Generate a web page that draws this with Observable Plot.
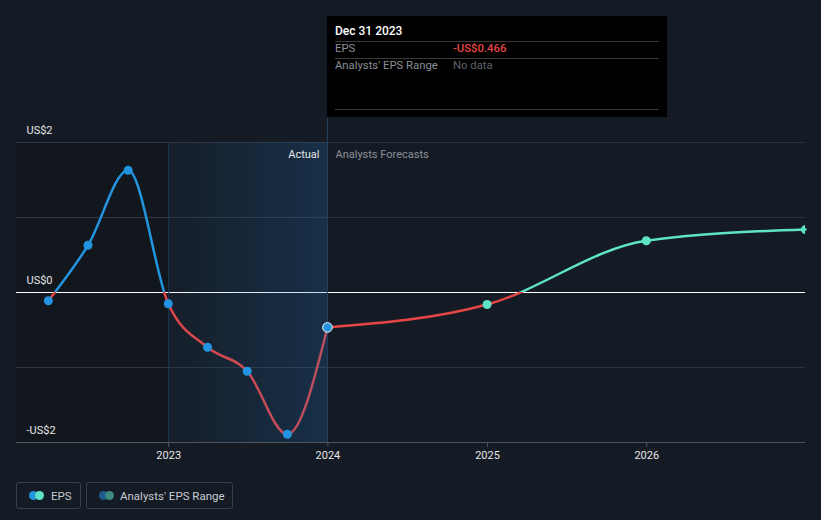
<!DOCTYPE html>
<html>
<head>
<meta charset="utf-8">
<script src="https://cdn.jsdelivr.net/npm/d3@7"></script>
<script src="https://cdn.jsdelivr.net/npm/@observablehq/plot@0.6"></script>
<style>
  html, body { margin: 0; padding: 0; background: #151b24; font-family: Roboto, "Noto Sans", sans-serif; }
  #wrap { position: relative; width: 821px; height: 520px; overflow: hidden; }
  #chart { position: absolute; left: 0; top: 0; }
  #tip { position: absolute; left: 327px; top: 16px; width: 340px; height: 101px; background: #000; }
  #tip .t { position: absolute; left: 8px; top: 8px; color: #fff; font-size: 12px; font-weight: 500; }
  #tip .hr { position: absolute; left: 8px; width: 324px; height: 1px; background: #3a3a3a; }
  #tip .l { position: absolute; left: 8px; color: #8a8f96; font-size: 11.3px; }
  #tip .v { position: absolute; left: 126px; font-size: 11.3px; }
  .leg { position: absolute; top: 482px; height: 27px; border: 1px solid #3a3f48; border-radius: 3px; box-sizing: border-box; }
  .leg .d { position: absolute; top: 8px; width: 9px; height: 9px; border-radius: 50%; }
  .leg .txt { position: absolute; top: 6px; font-size: 11.5px; color: #c6cad0; }
</style>
</head>
<body>
<div id="wrap">
  <div id="chart"></div>
  <div id="tip">
    <div class="t">Dec 31 2023</div>
    <div class="hr" style="top:25px"></div>
    <div class="l" style="top:26px">EPS</div>
    <div class="v" style="top:26px;color:#e64545;font-weight:500">-US$0.466</div>
    <div class="hr" style="top:42px"></div>
    <div class="l" style="top:43px">Analysts' EPS Range</div>
    <div class="v" style="top:43px;color:#5d6168">No data</div>
    <div class="hr" style="top:93px"></div>
  </div>
  <div class="leg" style="left:16px;width:65px">
    <div class="d" style="left:12px;background:#2394df"></div>
    <div class="d" style="left:18px;background:#5ee3c7"></div>
    <div class="txt" style="left:34px">EPS</div>
  </div>
  <div class="leg" style="left:86px;width:147px">
    <div class="d" style="left:12px;background:#1d5b8c"></div>
    <div class="d" style="left:18px;background:#3d8a80"></div>
    <div class="txt" style="left:33px">Analysts' EPS Range</div>
  </div>
</div>
<script>
// ---- data ----
const actualDates = ["2022-03-31","2022-06-30","2022-09-30","2022-12-31","2023-03-31","2023-06-30","2023-09-30","2023-12-31"];
const actualEPS   = [-0.11, 0.63, 1.63, -0.15, -0.73, -1.05, -1.89, -0.466];
const forecastDates = ["2023-12-31","2024-12-31","2025-12-31","2026-12-31"];
const forecastEPS   = [-0.466, -0.16, 0.69, 0.84];
const yTickValues = [2, 0, -2];
const yTickLabels = ["US$2", "US$0", "-US$2"];
const xTickYears = [2023, 2024, 2025, 2026];
const gridValues = [2, 1, -1];
const domainStart = "2022-01-17";
const domainEnd = "2026-12-31";
const actualStart = "2023-01-01";
const lastActual = "2023-12-31";
const tipBottom = 2.33;

const D = s => new Date(s + "T00:00:00Z");
const actual = actualDates.map((d, i) => ({date: D(d), eps: actualEPS[i]}));
const forecast = forecastDates.map((d, i) => ({date: D(d), eps: forecastEPS[i]}));
const xTicks = xTickYears.map(y => new Date(Date.UTC(y, 0, 1)));
const yTicks = yTickValues.map((v, i) => ({v, label: yTickLabels[i]}));

const BLUE = "#2394df", RED = "#e64545", TEAL = "#5ee3c7";

function defs(index, scales, values, dims) {
  const y0 = scales.y(0);
  const ns = "http://www.w3.org/2000/svg";
  const el = document.createElementNS(ns, "defs");
  el.innerHTML = `
    <linearGradient id="gA" gradientUnits="userSpaceOnUse" x1="0" x2="0" y1="0" y2="${dims.height}">
      <stop offset="${y0/dims.height}" stop-color="${BLUE}"/>
      <stop offset="${y0/dims.height}" stop-color="${RED}"/>
    </linearGradient>
    <linearGradient id="gF" gradientUnits="userSpaceOnUse" x1="0" x2="0" y1="0" y2="${dims.height}">
      <stop offset="${y0/dims.height}" stop-color="${TEAL}"/>
      <stop offset="${y0/dims.height}" stop-color="${RED}"/>
    </linearGradient>
    <linearGradient id="shade" x1="0" x2="1" y1="0" y2="0">
      <stop offset="0" stop-color="#1f6fb8" stop-opacity="0.04"/>
      <stop offset="1" stop-color="#1f6fb8" stop-opacity="0.24"/>
    </linearGradient>`;
  return el;
}

const plot = Plot.plot({
  width: 821,
  height: 470,
  marginLeft: 16,
  marginRight: 16,
  marginTop: 142,
  marginBottom: 28,
  style: {background: "transparent", color: "#e6e6e6", fontFamily: "Roboto, sans-serif", fontSize: "11px"},
  x: {type: "utc", domain: [D(domainStart), D(domainEnd)], ticks: xTicks, tickFormat: d => String(d.getUTCFullYear()), tickSize: 5, tickPadding: 4, label: null},
  y: {domain: [-2, 2], axis: null},
  marks: [
    defs,
    Plot.rect([0], {x1: () => D(domainStart), x2: () => D(actualStart), y1: () => -2, y2: () => 2, fill: "#000", fillOpacity: 0.14}),
    Plot.ruleY(gridValues, {stroke: "#2f343c", strokeWidth: 1}),
    Plot.ruleY([-2], {stroke: "#50555d", strokeWidth: 1}),
    Plot.ruleY([0], {stroke: "#ffffff", strokeWidth: 1}),
    Plot.ruleX([D(actualStart)], {y1: -2, y2: 2, stroke: "#1c3650"}),
    Plot.lineY(forecast, {x: "date", y: "eps", stroke: "url(#gF)", strokeWidth: 2.5, curve: "monotone-x"}),
    Plot.lineY(actual, {x: "date", y: "eps", stroke: "url(#gA)", strokeWidth: 2.5, curve: "monotone-x"}),
    Plot.rect([0], {x1: () => D(actualStart), x2: () => D(lastActual), y1: () => -2, y2: () => 2, fill: "url(#shade)"}),
    Plot.ruleX([D(lastActual)], {y1: -2, y2: tipBottom, stroke: "#24405c"}),
    Plot.text(yTicks, {y: "v", text: "label", frameAnchor: "left", dx: 10, dy: -12, textAnchor: "start", fill: "#e6e6e6", fontSize: 11}),
    Plot.text(["Actual"], {x: () => D(lastActual), y: () => 2, text: d => d, dx: -8, dy: 12, textAnchor: "end", fill: "#e6e6e6", fontSize: 11}),
    Plot.text(["Analysts Forecasts"], {x: () => D(lastActual), y: () => 2, text: d => d, dx: 8, dy: 12, textAnchor: "start", fill: "#8a8f96", fontSize: 11}),
    Plot.dot(forecast.slice(1), {x: "date", y: "eps", r: 4.5, fill: TEAL, clip: "frame"}),
    Plot.dot(actual.slice(0, -1), {x: "date", y: "eps", r: 4.5, fill: BLUE}),
    Plot.dot(actual.slice(-1), {x: "date", y: "eps", r: 4.8, fill: BLUE, stroke: "#fff", strokeWidth: 1})
  ]
});
plot.querySelectorAll('[aria-label="x-axis tick"] path, [aria-label="x-axis tick"]').forEach(e => e.setAttribute("stroke", "#50555d"));
plot.querySelectorAll('[aria-label="x-axis tick label"] text').forEach(e => e.setAttribute("fill", "#e6e6e6"));
document.getElementById("chart").appendChild(plot);
</script>
</body>
</html>
